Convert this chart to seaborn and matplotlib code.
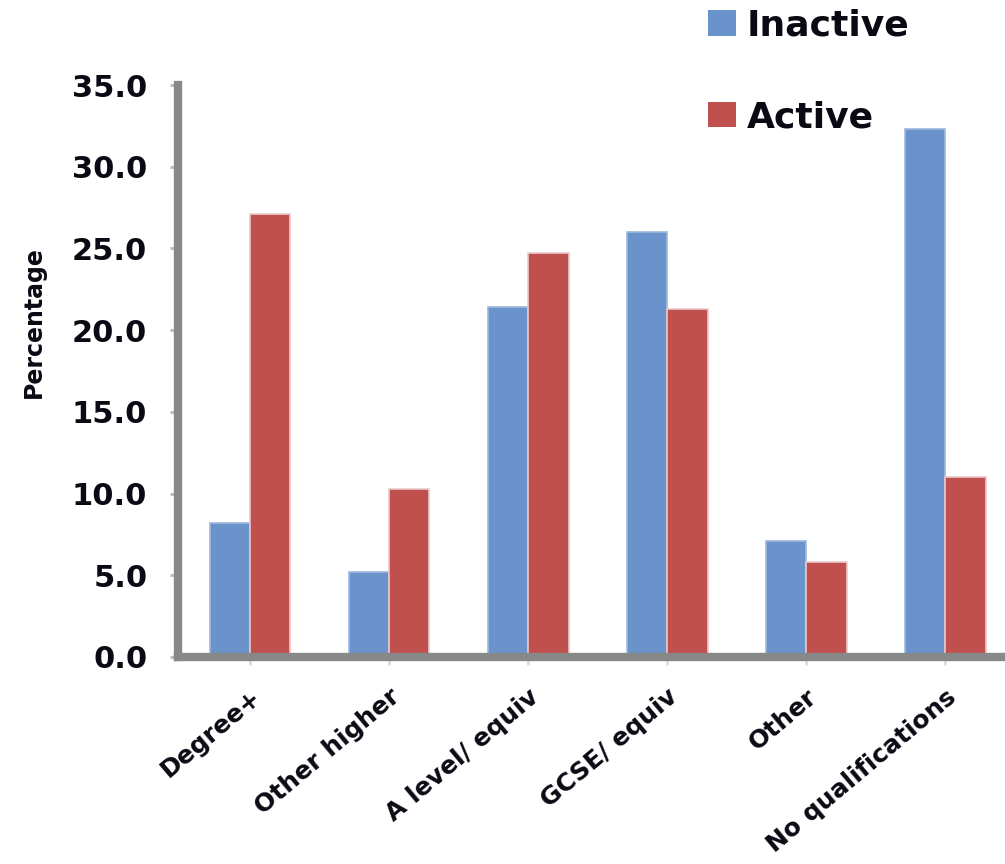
import matplotlib
matplotlib.use("Agg")
import matplotlib.pyplot as plt
import seaborn as sns
import pandas as pd
from matplotlib.patches import Patch

# Share of people in each qualification group, by activity status
categories = ["Degree+", "Other higher", "A level/ equiv", "GCSE/ equiv",
              "Other", "No qualifications"]
inactive = [8.2, 5.2, 21.4, 26.0, 7.1, 32.3]
active = [27.1, 10.3, 24.7, 21.3, 5.8, 11.0]
series = ["Inactive", "Active"]
yticks = [0, 5, 10, 15, 20, 25, 30, 35]

df = pd.DataFrame({
    "Qualification": categories * 2,
    "Status": ["Inactive"] * len(categories) + ["Active"] * len(categories),
    "Percentage": inactive + active,
})

BLUE = "#6A93CB"
RED = "#C0504D"
TEXT = "#0A0A14"
palette = {"Inactive": BLUE, "Active": RED}

sns.set_theme(style="white")
plt.rcParams["font.family"] = ["DejaVu Sans"]

fig = plt.figure(figsize=(10.05, 8.64), dpi=100)
ax = fig.add_axes([0.177, 0.2396, 0.823, 0.662])

sns.barplot(data=df, x="Qualification", y="Percentage", hue="Status",
            order=categories, hue_order=series, palette=palette,
            width=0.58, gap=0, saturation=1, legend=False, ax=ax)

# soft lighter rim around the bars
for bar in ax.patches:
    fc = bar.get_facecolor()
    if abs(fc[0] - 0.753) < 0.02:
        bar.set_edgecolor("#E9C9C9")
    else:
        bar.set_edgecolor("#9DB8DE")
    bar.set_linewidth(1.2)

ax.set_ylim(0, 35)
ax.set_xlim(-0.52, 5.43)
ax.set_yticks(yticks)
ax.set_yticklabels([f"{v:.1f}" for v in yticks], fontsize=22,
                   fontweight="bold", color=TEXT)
ax.set_xticks(range(len(categories)))
ax.set_xticklabels(categories, rotation=40, ha="right",
                   rotation_mode="anchor", fontsize=18, fontweight="bold",
                   color=TEXT)
ax.set_xlabel("")
ax.set_ylabel("Percentage", fontsize=17, fontweight="bold", color=TEXT)
ax.yaxis.set_label_coords(-0.16, 0.585)

for side in ["top", "right"]:
    ax.spines[side].set_visible(False)
for side in ["left", "bottom"]:
    ax.spines[side].set_color("#888888")
    ax.spines[side].set_linewidth(6)

ax.tick_params(axis="y", length=6, width=2, color="#BBBBBB", pad=16,
               left=True, direction="out")
ax.tick_params(axis="x", length=6, width=2, color="#DDDDDD", pad=14,
               bottom=True, direction="out")

handles = [Patch(facecolor=BLUE, edgecolor="none", label="Inactive"),
           Patch(facecolor=RED, edgecolor="none", label="Active")]
fig.legend(handles=handles, loc="upper left",
           bbox_to_anchor=(0.704, 0.99), frameon=False,
           prop={"size": 26, "weight": "bold"}, labelcolor=TEXT,
           handlelength=0.78, handleheight=0.7, handletextpad=0.3,
           labelspacing=1.6, borderpad=0, borderaxespad=0)

fig.savefig("out.png", dpi=100)
